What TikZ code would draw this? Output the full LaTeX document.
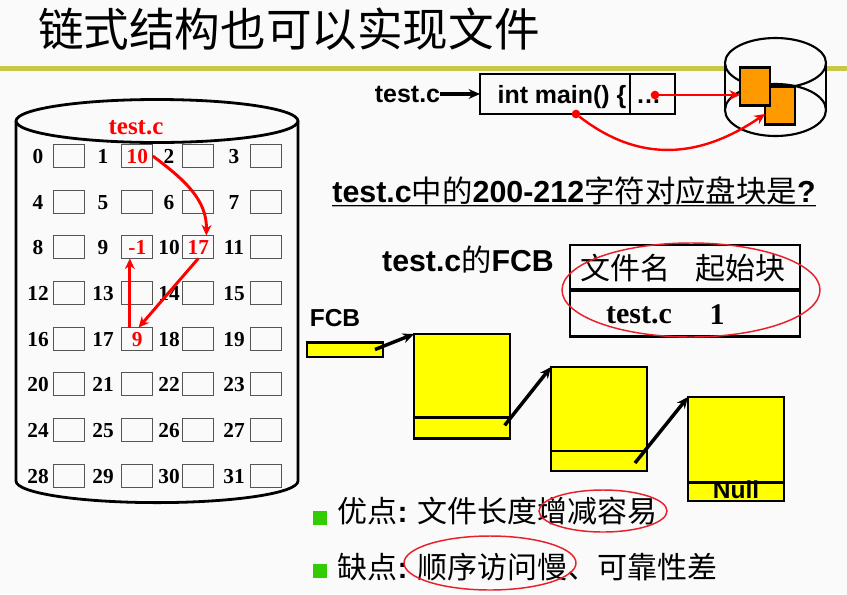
\documentclass[tikz,border=0pt]{standalone}
\usepackage{fontspec}
\setmainfont{Liberation Sans}
\newfontfamily\cjk{Noto Sans CJK SC}
\newfontfamily\tnr{Liberation Serif}
\usetikzlibrary{arrows.meta, positioning}
\definecolor{cpage}{HTML}{FAFAFA}
\definecolor{colive}{HTML}{C8C846}
\definecolor{cred}{HTML}{FF0000}
\definecolor{coval}{HTML}{E8202C}
\definecolor{corange}{HTML}{FF9900}
\definecolor{cyellow}{HTML}{FFFF00}
\definecolor{cgreen}{HTML}{33CC00}
\definecolor{cgrey}{HTML}{555555}
\tikzset{
  every node/.style={inner sep=0pt, outer sep=0pt},
  cell/.style={draw=cgrey, line width=0.8pt, minimum width=23.2pt, minimum height=17.2pt},
  num/.style={font=\tnr\bfseries\fontsize{16}{18}\selectfont, yshift=-0.6pt},
  val/.style={num, text=cred},
  sans/.style={font=\bfseries\fontsize{#1}{#1}\selectfont},
  sans/.default=18.7,
  boxcell/.style={draw, line width=2.2pt},
  yblock/.style={draw, fill=cyellow, line width=2.2pt, minimum width=72pt},
  orangebox/.style={draw, fill=corange, line width=2.2pt, minimum width=22.5pt, minimum height=28pt},
  reddot/.style={circle, fill=cred, minimum size=6.5pt},
  redarrow/.style={-{Stealth[length=2.8mm, width=2.6mm]}, draw=cred, line width=2.2pt},
  blackarrow/.style={-{Stealth[length=3mm, width=2.6mm]}, line width=2.6pt},
  oval/.style={draw=coval, line width=1.1pt},
  bullet/.style={fill=cgreen, minimum size=10.5pt},
  cjktext/.style={font=\cjk\fontsize{22.5}{26}\selectfont},
}
\begin{document}
\begin{tikzpicture}[x=0.75pt, y=-0.75pt]
  \useasboundingbox (0,0) rectangle (847,594);
  \fill[cpage] (0,0) rectangle (847,594);
  % title and rule
  \node[font=\cjk\fontsize{34.2}{38}\selectfont] (title) at (289,29) {链式结构也可以实现文件};
  \fill[colive] (0,66) rectangle (847,71);
  % big disk with the block grid
  \draw[line width=2.1pt] (16,121) -- (16,481) arc[start angle=180, end angle=360, x radius=105.75pt, y radius=16.2pt] -- (298,121);
  \draw[line width=2.1pt] (157,121) ellipse [x radius=141, y radius=21.5];
  \node[font=\tnr\bfseries\fontsize{18.7}{20}\selectfont, text=cred] (disklabel) at (136,128) {test.c};
  \foreach \r/\y in {0/156,1/202,2/247,3/293,4/339,5/384,6/430,7/476}
    \foreach \c/\lx/\bx in {0/38/68.8,1/103/137.3,2/169/198.3,3/234/266.3} {
      \pgfmathtruncatemacro{\n}{4*\r+\c}
      \node[num] (l\n) at (\lx,\y) {\n};
      \node[cell] (b\n) at (\bx,\y) {};
    }
  \foreach \n/\v in {1/10,10/17,17/9,9/-1} \node[val] (v\n) at (b\n) {\v};
  \draw[redarrow] (b1.east) .. controls (185,180) and (207,200) .. ([xshift=6pt]b10.north);
  \draw[redarrow] (b10.south) -- ([xshift=1pt]b17.north);
  \draw[redarrow] ([xshift=-5.6pt]b17.north) -- ([xshift=-5.6pt]b9.south);
  % file on top right
  \node[sans] (tc) at (407.5,94) {test.c};
  \node[boxcell, minimum width=112.5pt, minimum height=30pt, text height=17pt, text depth=3.5pt, sans] (codeL) at (555,94) {\hspace*{10.5pt}int main() \{};
  \node[boxcell, minimum width=33.75pt, minimum height=30pt, text height=17pt, text depth=3.5pt, sans] (codeR) at (652.5,94) {…\hspace*{6pt}};
  \draw[blackarrow] (tc) -- (codeL);
  % small disk
  \path[fill=cpage] (725,63) -- (725,110) arc[start angle=180, end angle=360, x radius=37.9pt, y radius=19.5pt] -- (826,63) arc[start angle=0, end angle=180, x radius=37.9pt, y radius=18.8pt] -- cycle;
  \draw[line width=1.6pt] (775.5,110) ellipse [x radius=50.5, y radius=26];
  \draw[line width=1.6pt] (725,63) -- (725,110) (826,63) -- (826,110);
  \draw[line width=1.6pt] (775.5,63) ellipse [x radius=50.5, y radius=25];
  \node[orangebox] (lower) at (780,105.5) {};
  \node[orangebox] (upper) at (755,86.5) {};
  \node[reddot] (dotR) at (655,95) {};
  \node[reddot] (dotL) at (576,114) {};
  \coordinate (lowerin) at (765,114);
  \coordinate (upperin) at (upper.west |- dotR);
  \draw[redarrow, line width=1.8pt] (dotR) -- (upperin);
  \draw[redarrow, line width=1.8pt] (dotL) .. controls (620,148) and (680,172) .. (lowerin);
  % question
  \node[sans=22.8, anchor=base] (question) at (574,202) {test.c{\cjk\mdseries 中的}200-212{\cjk\mdseries 字符对应盘块是}?};
  \draw[cgrey!50, line width=1.2pt] ([yshift=-3.4pt]question.base west) -- ([yshift=-3.4pt]question.base east);
  \draw[line width=0.9pt] ([yshift=-2.4pt]question.base west) -- ([yshift=-2.4pt]question.base east);
  % FCB table
  \node[sans=22.7] (fcbtitle) at (468,260) {test.c{\cjk\mdseries 的}FCB};
  \node[boxcell, minimum width=172.5pt, minimum height=35pt, cjktext] (tblrow) at (685,313) {};
  \node[boxcell, minimum width=172.5pt, minimum height=34.5pt, cjktext] (tblhead) at (685,268) {\raisebox{-2pt}{\hspace*{-3pt}文件名\hspace{19pt}起始块}};
  \node[font=\tnr\bfseries\fontsize{22.5}{24}\selectfont] (rowname) at (639,315) {test.c};
  \node[font=\tnr\bfseries\fontsize{22.5}{24}\selectfont] (rowstart) at (717,315) {1};
  \draw[oval] (691,290) ellipse [x radius=129, y radius=47];
  % linked blocks
  \node[sans=18.4] (fcblabel) at (335,318) {FCB};
  \node[yblock, minimum width=57pt, minimum height=11.2pt] (fcbbar) at (345,349.5) {};
  \node[yblock, minimum height=62.5pt, anchor=north] (blkA) at (462,334) {};
  \node[yblock, minimum height=16pt, below=0pt of blkA] (tailA) {};
  \node[yblock, minimum height=63pt, anchor=north] (blkB) at (599,367) {};
  \node[yblock, minimum height=15pt, below=0pt of blkB] (tailB) {};
  \node[yblock, minimum height=64pt, anchor=north] (blkC) at (736,397) {};
  \node[yblock, minimum height=14pt, below=0pt of blkC] (tailC) {};
  \node[sans=18.4] (null) at (736,490) {Null};
  \draw[blackarrow] ([xshift=-6pt]fcbbar.east) -- (blkA.north west);
  \draw[blackarrow] ([shift={(-4pt,2pt)}]tailA.east) -- (blkB.north west);
  \draw[blackarrow] ([shift={(-9pt,-1.5pt)}]tailB.east) -- (blkC.north west);
  % pros and cons
  \node[bullet] (bulA) at (320,518) {};
  \node[bullet] (bulB) at (320,570.5) {};
  \node[cjktext, anchor=west, right=8pt of bulA, yshift=5pt] (pros) {优点\textbf{\fontspec{Liberation Sans}:}\hspace{1pt} 文件长度增减容易};
  \node[cjktext, anchor=west, right=8pt of bulB, yshift=2.6pt] (cons) {缺点\textbf{\fontspec{Liberation Sans}:}\hspace{1pt} 顺序访问慢、可靠性差};
  \draw[oval] (603,511) ellipse [x radius=64, y radius=21];
  \draw[oval] (490,563) ellipse [x radius=86, y radius=27];
\end{tikzpicture}
\end{document}
